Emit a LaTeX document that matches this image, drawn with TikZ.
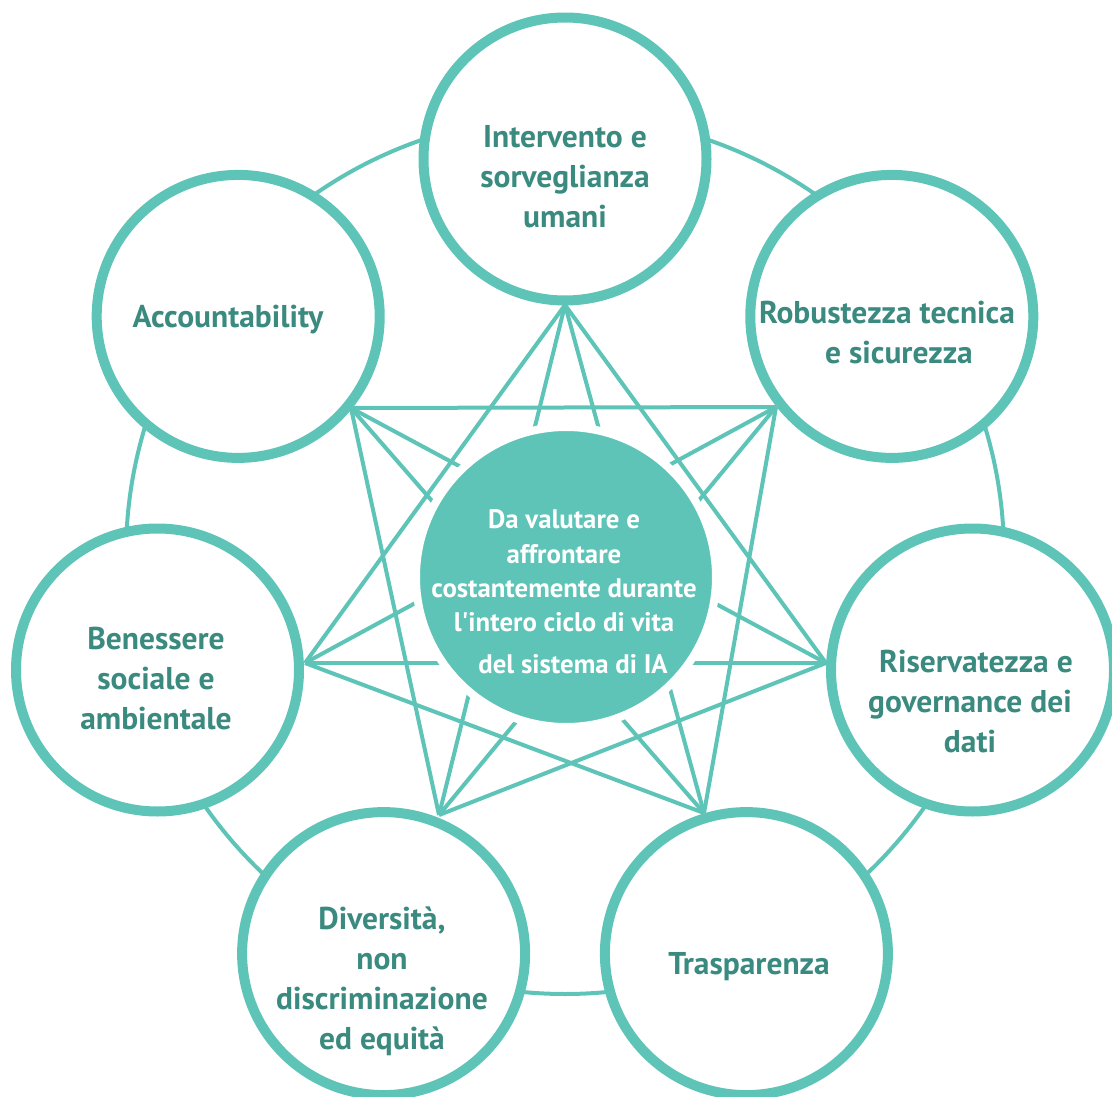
\documentclass[tikz,border=0pt]{standalone}
\usepackage{fontspec}
\setmainfont{PT Sans}
\definecolor{tealA}{RGB}{94,196,183}
\definecolor{tealT}{RGB}{58,138,127}
\begin{document}
\begin{tikzpicture}[x=1pt,y=-1pt,
  ringline/.style={draw=tealA, line width=4pt},
  link/.style={draw=tealA, line width=4pt},
  pillar/.style={circle, draw=tealA, fill=white, line width=10pt, minimum size=283pt, inner sep=0pt},
  core/.style={circle, draw=white, fill=tealA, line width=8pt, minimum size=300pt, inner sep=0pt},
  lbl/.style={font=\bfseries\fontsize{31.5}{40}\selectfont, text=tealT, align=center, inner sep=0pt},
  corelbl/.style={font=\bfseries\fontsize{26.8}{34.3}\selectfont, text=white, align=center, inner sep=0pt}]
\useasboundingbox (0,0) rectangle (1112,1097);
\clip (0,0) rectangle (1112,1097);
% outer ring
\coordinate (R) at (565,555);
\draw[ringline] (R) circle[radius=439pt];
% hubs
\coordinate (h0) at (565,305);
\coordinate (h1) at (776,407);
\coordinate (h2) at (826,663);
\coordinate (h3) at (704,813);
\coordinate (h4) at (439,815);
\coordinate (h5) at (305,663);
\coordinate (h6) at (351,408);
% links (non-adjacent pairs)
\foreach \a/\b in {0/2,0/3,0/4,0/5,1/3,1/4,1/5,1/6,2/4,2/5,2/6,3/5,3/6,4/6}
  \draw[link] (h\a) -- (h\b);
% pillar circles
\node[pillar] (c0) at (565,159) {};
\node[pillar] (c1) at (891.8,316.4) {};
\node[pillar] (c2) at (972.5,670) {};
\node[pillar] (c3) at (746.4,953.6) {};
\node[pillar] (c4) at (383.6,953.6) {};
\node[pillar] (c5) at (157.5,670) {};
\node[pillar] (c6) at (238.2,316.4) {};
% centre
\node[core] (cc) at (566,577) {};
% labels
\node[lbl] (t0) at (565,177) {Intervento e\\sorveglianza\\umani};
\node[lbl] (t1) at (887,333) {Robustezza tecnica\\\hspace*{24pt}e sicurezza};
\node[lbl] (t2) at (970,702) {\hspace*{12pt}Riservatezza e\\governance dei\\dati};
\node[lbl] (t3) at (749,967) {Trasparenza};
\node[lbl] (t4) at (382,981) {Diversità,\\non\\discriminazione\\ed equità};
\node[lbl] (t5) at (156,679) {Benessere\\sociale e\\ambientale};
\node[lbl] (t6) at (228,320) {Accountability};
\node[corelbl] (tc) at (564,592) {Da valutare e\\affrontare\\costantemente durante\\l\textquotesingle intero ciclo di vita\\[8pt]\hspace*{18pt}del sistema di IA};
\end{tikzpicture}
\end{document}
